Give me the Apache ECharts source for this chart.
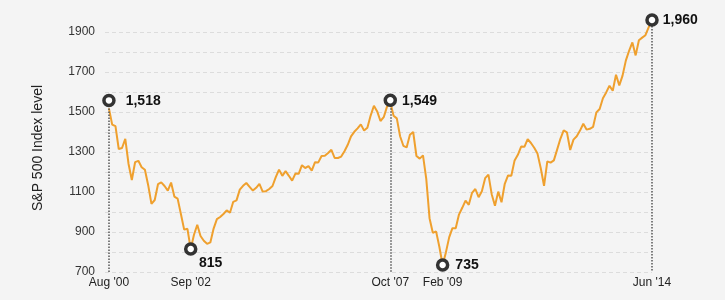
<!DOCTYPE html>
<html>
<head>
<meta charset="utf-8">
<script src="https://cdn.jsdelivr.net/npm/echarts@6/dist/echarts.min.js"></script>
<style>
html,body{margin:0;padding:0;background:#f4f4f4;}
#c{width:725px;height:300px;}
</style>
</head>
<body>
<div id="c"></div>
<script>
// Monthly S&P 500 index level, Aug 2000 .. Jun 2014 (index 0 .. 166)
const spx = [
  1518,1437,1429,1315,1320,
  1366,1240,1160,1249,1256,1224,1211,1134,1041,1060,1139,1148,
  1130,1107,1147,1077,1067,990,912,916,815,886,936,880,
  856,841,848,917,964,975,990,1008,996,1051,1058,1112,
  1131,1145,1126,1107,1121,1141,1102,1104,1115,1130,1174,1212,
  1181,1204,1181,1157,1192,1191,1234,1220,1229,1207,1249,1248,
  1280,1281,1295,1311,1270,1270,1277,1304,1336,1378,1401,1418,
  1438,1407,1421,1482,1531,1503,1455,1474,1527,1549,1481,1468,
  1379,1331,1323,1386,1400,1280,1267,1283,1166,969,896,903,
  826,735,798,873,919,919,987,1021,1057,1036,1096,1115,
  1074,1104,1169,1187,1089,1031,1102,1049,1141,1183,1181,1258,
  1286,1327,1326,1364,1345,1321,1292,1219,1131,1253,1247,1258,
  1312,1366,1408,1398,1310,1362,1379,1407,1441,1412,1416,1426,
  1498,1515,1569,1598,1631,1606,1686,1633,1682,1757,1806,1848,
  1783,1859,1872,1884,1924,1960
];
const tickIdx = [0, 25, 86, 102, 166];
const tickLabels = ["Aug '00", "Sep '02", "Oct '07", "Feb '09", "Jun '14"];
const markIdx = [0, 25, 86, 102, 166];
const markLabels = ['1,518', '815', '1,549', '735', '1,960'];
const dropIdx = [0, 86, 166];
const yLabels = [700, 900, 1100, 1300, 1500, 1700, 1900];

const labelCfg = [
  {position: 'right', distance: 10, offset: [0, 1]},
  {position: 'bottom', distance: 0, offset: [20, 0]},
  {position: 'right', distance: 5, offset: [0, 1]},
  {position: 'right', distance: 6, offset: [0, 0]},
  {position: 'right', distance: 4, offset: [0, 0]}
];
const symOffsets = [[0, -8], [0, 0], [0, -2], [0, 0], [0, 0]];

// split line colours: one per tick 700..2000, top (2000) hidden
const gridColors = [];
for (let v = 700; v <= 2000; v += 100) gridColors.push(v < 2000 ? '#dcdcdc' : 'rgba(0,0,0,0)');

const chart = echarts.init(document.getElementById('c'), null, {renderer: 'canvas'});
const FONT = '"Liberation Sans", Arial, Helvetica, sans-serif';

chart.setOption({
  backgroundColor: '#f4f4f4',
  animation: false,
  grid: {left: 105, right: 73, top: 12, bottom: 28},
  xAxis: {
    type: 'value',
    min: -1.2,
    max: 166,
    splitLine: {show: false},
    axisLine: {show: false},
    axisTick: {show: false},
    axisLabel: {
      customValues: tickIdx,
      formatter: v => { const i = tickIdx.indexOf(Math.round(v)); return i >= 0 ? tickLabels[i] : ''; },
      fontFamily: FONT, fontSize: 12, color: '#222', margin: 5,
      showMinLabel: true, showMaxLabel: true
    }
  },
  yAxis: {
    type: 'value',
    min: 700,
    max: 2000,
    interval: 100,
    name: 'S&P 500 Index level',
    nameLocation: 'middle',
    nameGap: 60,
    nameTextStyle: {fontFamily: FONT, fontSize: 14, color: '#222', padding: [0, 12, 0, 0]},
    axisLine: {show: false},
    axisTick: {show: false},
    axisLabel: {
      formatter: v => yLabels.indexOf(v) >= 0 ? String(v) : '',
      fontFamily: FONT, fontSize: 12, color: '#333', margin: 10
    },
    splitLine: {show: true, lineStyle: {type: [4, 3], color: gridColors, width: 1}}
  },
  series: [{
    type: 'line',
    data: spx.map((v, i) => [i, v]),
    showSymbol: false,
    clip: false,
    lineStyle: {color: '#efa02e', width: 2},
    z: 2,
    markLine: {
      silent: true,
      symbol: 'none',
      label: {show: false},
      lineStyle: {type: 'dotted', color: '#555', width: 1.5},
      data: dropIdx.map(i => [{coord: [i, spx[i]]}, {coord: [i, 700]}])
    },
    markPoint: {
      silent: true,
      symbol: 'circle',
      symbolSize: 10,
      itemStyle: {color: '#ffffff', borderColor: '#333333', borderWidth: 3.5},
      data: markIdx.map((idx, k) => ({
        coord: [idx, spx[idx]],
        symbolOffset: symOffsets[k],
        label: {
          show: true,
          formatter: markLabels[k],
          position: labelCfg[k].position,
          distance: labelCfg[k].distance,
          offset: labelCfg[k].offset,
          fontFamily: FONT, fontSize: 14, fontWeight: 'bold', color: '#111'
        }
      }))
    }
  }]
});
</script>
</body>
</html>
